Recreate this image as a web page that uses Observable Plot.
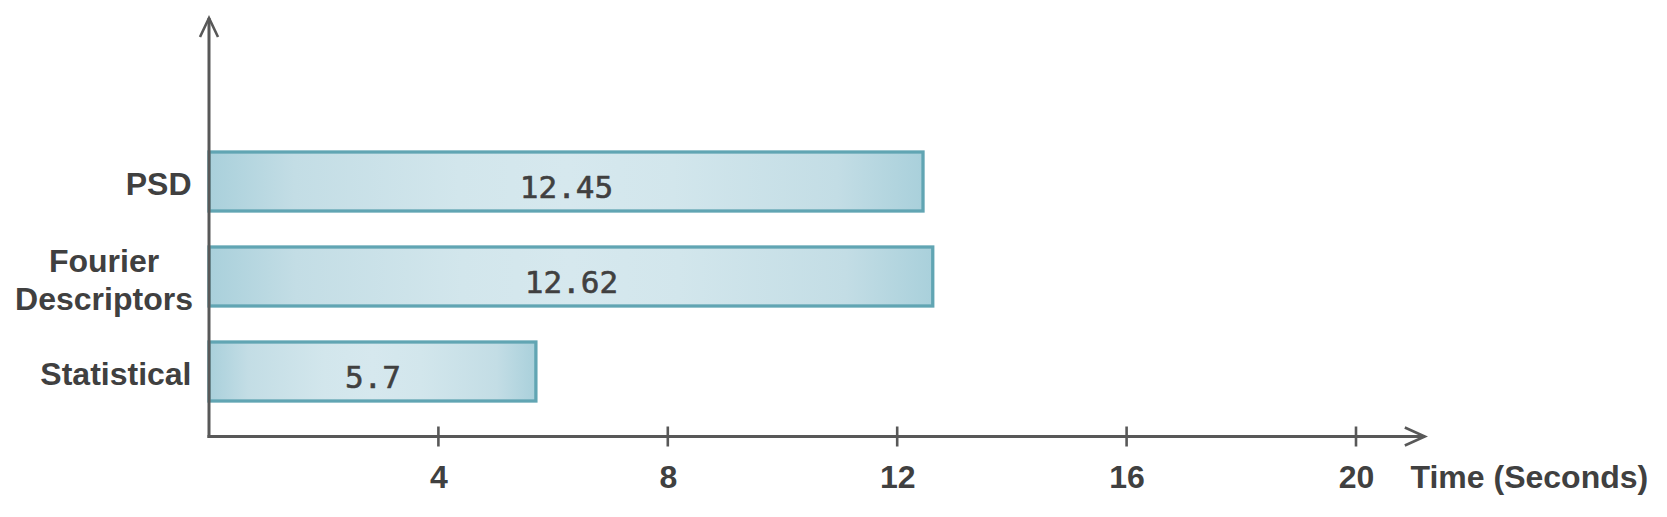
<!DOCTYPE html>
<html>
<head>
<meta charset="utf-8">
<script src="https://cdn.jsdelivr.net/npm/d3@7"></script>
<script src="https://cdn.jsdelivr.net/npm/@observablehq/plot@0.6"></script>
<style>
  html, body { margin: 0; padding: 0; background: #ffffff; }
  #chart { width: 1667px; height: 517px; }
</style>
</head>
<body>
<div id="chart"></div>
<script>
// ---- data ----
const categories = ["PSD", "Fourier\nDescriptors", "Statistical"];
const times = [12.45, 12.62, 5.7];
const valueLabels = ["12.45", "12.62", "5.7"];
const xTicks = [4, 8, 12, 16, 20];
const xDomain = [0, 20];
const xAxisEnd = 21.2;           // where the x-axis arrow ends (in data units)
const xLabel = "Time (Seconds)";

const data = categories.map((c, i) => ({cat: c, time: times[i], label: valueLabels[i]}));

const AXIS = "#585858";
const TEXT = "#404040";
const LABEL_FONT = "'Liberation Sans', Arial, Helvetica, sans-serif";

// gradient definition for bars
function gradientDefs() {
  const defs = d3.create("svg:defs");
  const g = defs.append("linearGradient").attr("id", "barGrad")
    .attr("x1", "0%").attr("x2", "100%").attr("y1", "0%").attr("y2", "0%");
  [[0, "#a9d0db"], [0.12, "#c3dde5"], [0.35, "#d2e6ec"], [0.5, "#d6e8ee"],
   [0.65, "#d2e6ec"], [0.88, "#c3dde5"], [1, "#a9d0db"]].forEach(([o, c]) =>
    g.append("stop").attr("offset", o).attr("stop-color", c));
  return defs.node();
}

// axis lines with arrow heads and crossing ticks, positioned with the plot's scales
function axesMark(index, scales, values, dims) {
  const g = d3.create("svg:g")
    .attr("stroke", AXIS).attr("stroke-width", 3).attr("fill", "none");
  const x0 = scales.x(xDomain[0]);
  const xe = scales.x(xAxisEnd);
  const yb = dims.height - dims.marginBottom;
  const yt = dims.marginTop;
  // y axis
  g.append("line").attr("x1", x0).attr("x2", x0).attr("y1", yb + 1.5).attr("y2", yt);
  g.append("path").attr("d", `M${x0 - 9},${yt + 19}L${x0},${yt}L${x0 + 9},${yt + 19}`)
    .attr("stroke-width", 2.6);
  // x axis
  g.append("line").attr("x1", x0 - 1.5).attr("x2", xe).attr("y1", yb).attr("y2", yb);
  g.append("path").attr("d", `M${xe - 20},${yb - 9}L${xe},${yb}L${xe - 20},${yb + 9}`)
    .attr("stroke-width", 2.6);
  // ticks crossing the axis
  for (const t of xTicks) {
    const x = scales.x(t);
    g.append("line").attr("x1", x).attr("x2", x).attr("y1", yb - 10).attr("y2", yb + 10)
      .attr("stroke-width", 2.6);
  }
  return g.node();
}

const plot = Plot.plot({
  width: 1667,
  height: 517,
  marginLeft: 209,
  marginRight: 311,
  marginTop: 18,
  marginBottom: 80.5,
  style: {fontFamily: LABEL_FONT, background: "#ffffff", overflow: "visible"},
  x: {domain: xDomain, axis: null},
  y: {domain: categories, axis: null, paddingInner: 0.381, paddingOuter: 0.886, align: 0.7875},
  marks: [
    gradientDefs,
    Plot.barX(data, {
      x: "time", y: "cat",
      fill: "url(#barGrad)", stroke: "#61a5b3", strokeWidth: 3.3
    }),
    Plot.text(data, {
      x: d => d.time / 2, y: "cat", text: "label",
      fontFamily: "'DejaVu Sans Mono', monospace", fontSize: 31, fill: TEXT,
      stroke: TEXT, strokeWidth: 0.6, dy: 6.5
    }),
    // category labels
    Plot.text(data.filter(d => !d.cat.includes("\n")), {
      y: "cat", text: "cat", frameAnchor: "left", textAnchor: "end", dx: -18, dy: 2.5,
      fontSize: 32, fontWeight: "bold", fill: TEXT
    }),
    Plot.text(data.filter(d => d.cat.includes("\n")), {
      y: "cat", text: "cat", frameAnchor: "left", textAnchor: "middle", dx: -105.5, dy: 2,
      lineHeight: 1.17, fontSize: 32, fontWeight: "bold", fill: TEXT
    }),
    Plot.axisX(xTicks, {
      anchor: "bottom", tickSize: 0, tickPadding: 28, tickFormat: d => String(d),
      label: null, fontSize: 32, fontWeight: "bold", color: TEXT
    }),
    Plot.text([xLabel], {
      frameAnchor: "bottom-right", textAnchor: "start", lineAnchor: "top",
      dx: 54, dy: 28.5, fontSize: 32, fontWeight: "bold", fill: TEXT
    }),
    axesMark
  ]
});

document.getElementById("chart").appendChild(plot);
</script>
</body>
</html>
